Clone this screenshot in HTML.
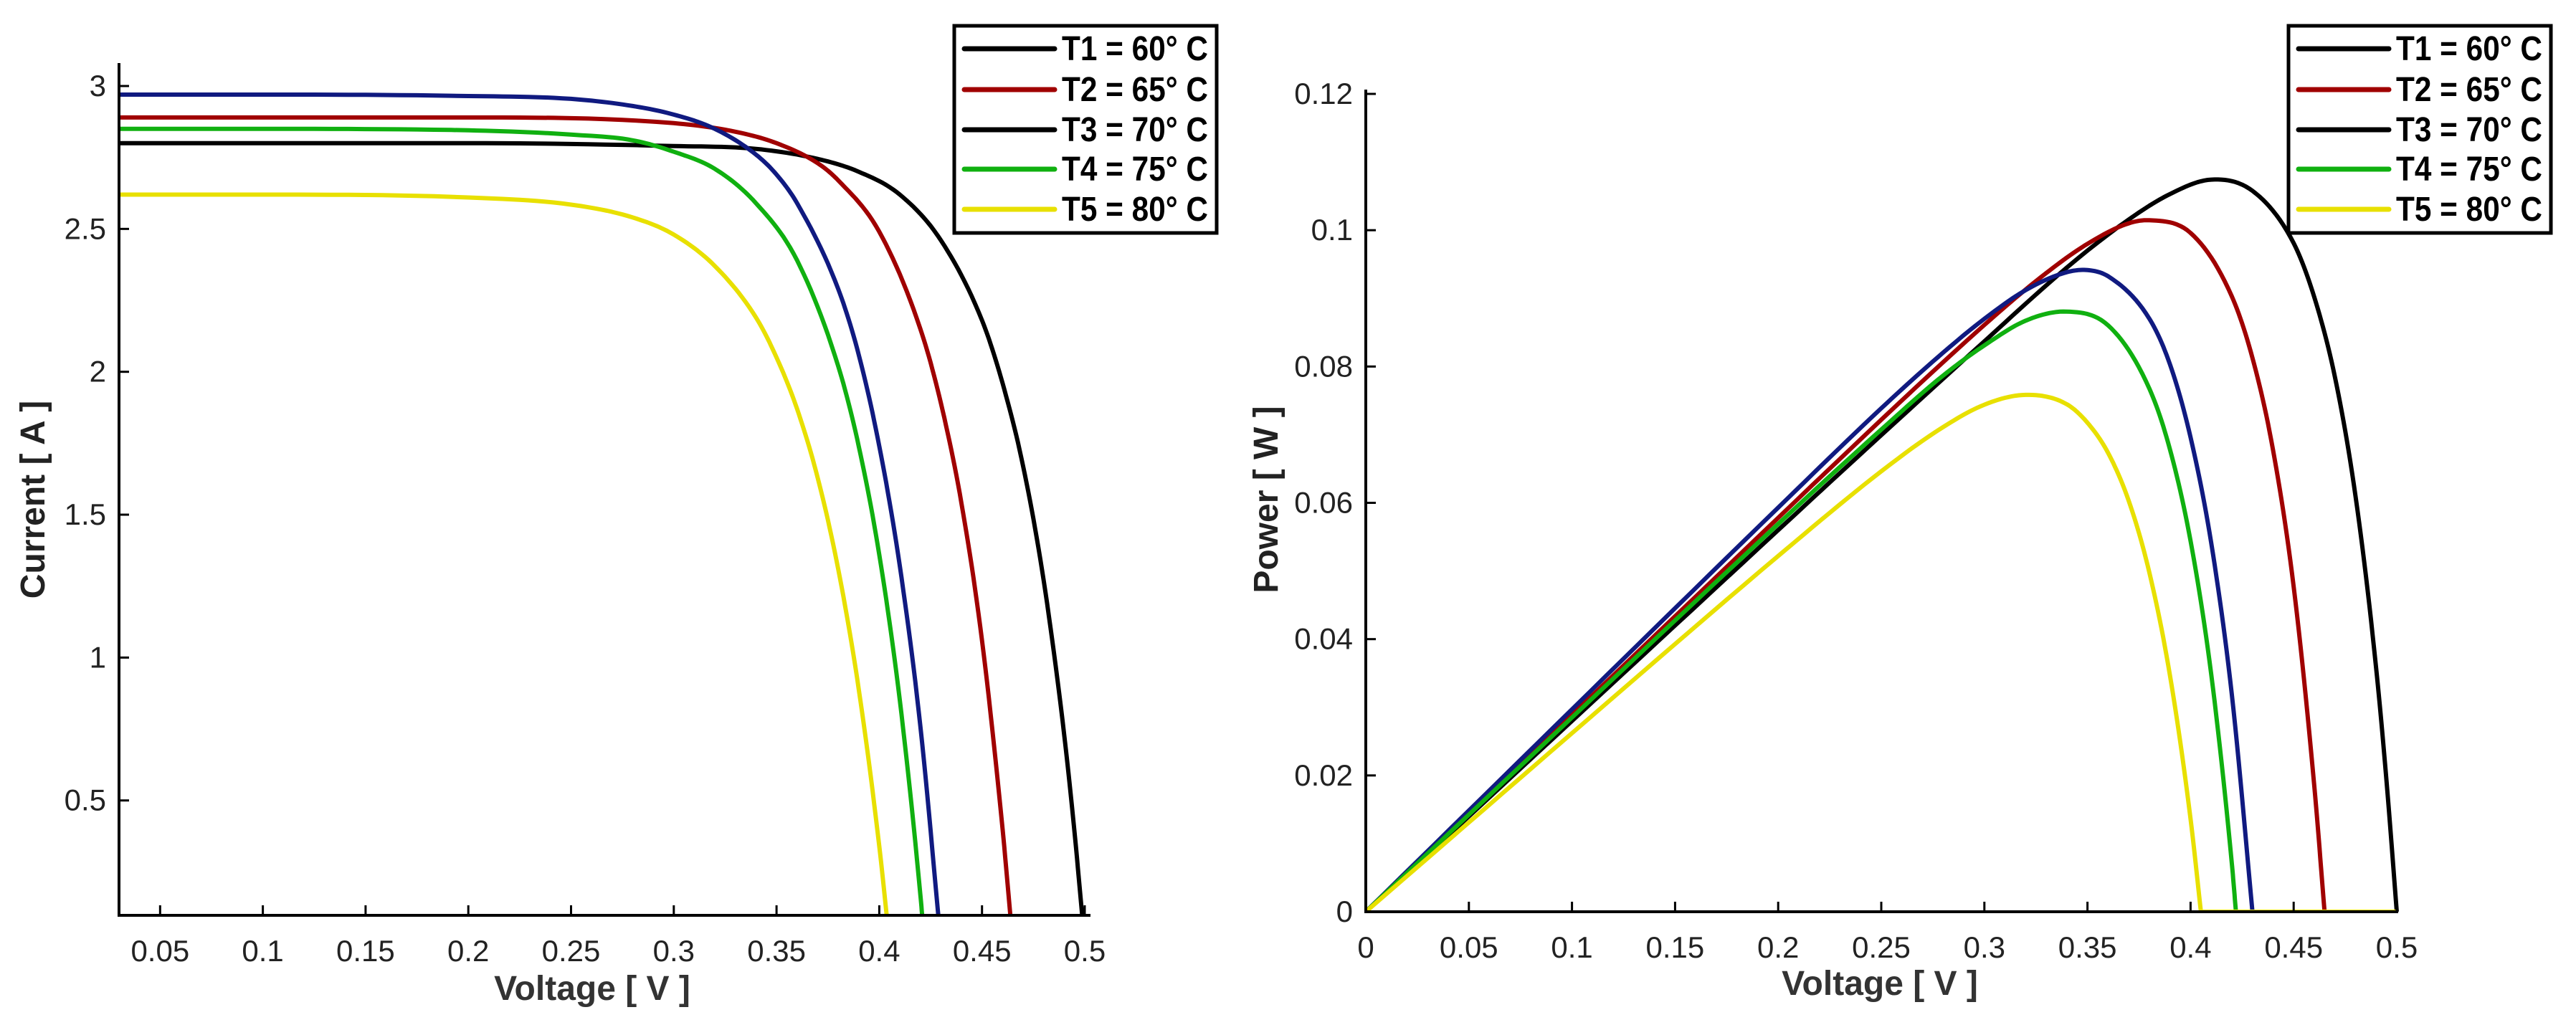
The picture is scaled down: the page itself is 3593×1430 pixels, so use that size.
<!DOCTYPE html>
<html><head><meta charset="utf-8"><style>
html,body{margin:0;padding:0;background:#fff;}
svg{display:block;}
text{font-family:"Liberation Sans Narrow","Liberation Sans",sans-serif;}
</style></head><body>
<svg id="root" width="3593" height="1430" viewBox="0 0 3593 1430"></svg>
<script>
// ---- data ----
const seriesNames = ["T1 = 60° C","T2 = 65° C","T3 = 70° C","T4 = 75° C","T5 = 80° C"];
const seriesColors = ["#000000","#a00000","#101a80","#10b010","#e8e000"];
const powerScale = 0.1;
const v1 = [0,0.1,0.2,0.3,0.34,0.37,0.39,0.41,0.43,0.45,0.46,0.47,0.48,0.49,0.495,0.50];
const i1 = [2.80,2.80,2.80,2.79,2.78,2.745,2.70,2.62,2.46,2.18,1.96,1.67,1.27,0.73,0.39,0];
const v2 = [0,0.1,0.2,0.3,0.33,0.35,0.37,0.38,0.40,0.42,0.43,0.44,0.45,0.46,0.465];
const i2 = [2.89,2.89,2.89,2.87,2.84,2.80,2.73,2.67,2.49,2.15,1.89,1.54,1.06,0.40,0];
const v3 = [0,0.1,0.2,0.25,0.28,0.30,0.32,0.34,0.35,0.36,0.38,0.39,0.40,0.41,0.42,0.43];
const i3 = [2.97,2.97,2.965,2.955,2.93,2.90,2.85,2.76,2.69,2.59,2.29,2.06,1.74,1.32,0.76,0];
const v4 = [0,0.1,0.2,0.25,0.28,0.30,0.32,0.34,0.36,0.38,0.39,0.40,0.41,0.42,0.422];
const i4 = [2.85,2.85,2.845,2.83,2.81,2.77,2.71,2.59,2.39,2.02,1.74,1.36,0.85,0.17,0];
const v5 = [0,0.1,0.2,0.25,0.28,0.30,0.32,0.34,0.35,0.36,0.37,0.38,0.39,0.40,0.405];
const i5 = [2.62,2.62,2.61,2.585,2.54,2.48,2.37,2.19,2.05,1.87,1.63,1.31,0.89,0.34,0];
const leftXTicks = [0.05,0.1,0.15,0.2,0.25,0.3,0.35,0.4,0.45,0.5];
const leftYTicks = [0.5,1,1.5,2,2.5,3];
const rightXTicks = [0,0.05,0.1,0.15,0.2,0.25,0.3,0.35,0.4,0.45,0.5];
const rightYTicks = [0,0.02,0.04,0.06,0.08,0.1,0.12];

const NS="http://www.w3.org/2000/svg";
const root=document.getElementById('root');
function mk(tag,attrs,parent){const e=document.createElementNS(NS,tag);for(const k in attrs)e.setAttribute(k,attrs[k]);(parent||root).appendChild(e);return e;}
function monotone(xs,ys,n){
  const m=xs.length,d=[],t=new Array(m);
  for(let k=0;k<m-1;k++)d.push((ys[k+1]-ys[k])/(xs[k+1]-xs[k]));
  t[0]=d[0];t[m-1]=d[m-2];
  for(let k=1;k<m-1;k++){t[k]=(d[k-1]*d[k]<=0)?0:(d[k-1]+d[k])/2;}
  for(let k=0;k<m-1;k++){if(d[k]===0){t[k]=0;t[k+1]=0;continue;}
    const a=t[k]/d[k],b=t[k+1]/d[k],s=a*a+b*b;if(s>9){const r=3/Math.sqrt(s);t[k]=r*a*d[k];t[k+1]=r*b*d[k];}}
  const out=[];
  for(let k=0;k<m-1;k++){const h=xs[k+1]-xs[k];
    for(let j=0;j<n;j++){const u=j/n,u2=u*u,u3=u2*u;
      const y=(2*u3-3*u2+1)*ys[k]+(u3-2*u2+u)*h*t[k]+(-2*u3+3*u2)*ys[k+1]+(u3-u2)*h*t[k+1];
      out.push([xs[k]+u*h,y]);}}
  out.push([xs[m-1],ys[m-1]]);
  return out;}
const allV=[v1,v2,v3,v4,v5], allI=[i1,i2,i3,i4,i5];

function drawChart(cfg){
  const g=mk('g',{});
  
  
  const X=v=>cfg.x0+(v-cfg.vx0)/(cfg.vx1-cfg.vx0)*(cfg.x1-cfg.x0);
  const Y=v=>cfg.y0+(v-cfg.vy0)/(cfg.vy1-cfg.vy0)*(cfg.y1-cfg.y0);
  const clip=mk('clipPath',{id:cfg.name+'-clip'},g);
  mk('rect',{x:cfg.x0,y:cfg.yTop,width:cfg.xRight-cfg.x0+4,height:cfg.y0-cfg.yTop},clip);
  const lines=mk('g',{'clip-path':'url(#'+cfg.name+'-clip)'},g);
  
  
  for(let s=0;s<5;s++){
    const dense=monotone(allV[s],allI[s],12);
    const pts=dense.map(p=>cfg.pt(p[0],p[1])).map(p=>[X(p[0]),Y(p[1])]);
    let d="M"+pts.map(p=>p[0].toFixed(1)+","+p[1].toFixed(1)).join(" L");
    if(cfg.extendZero) d+=" L"+X(cfg.vx1)+","+Y(0);
    const p=mk('path',{d:d,fill:'none',stroke:seriesColors[s],'stroke-width':6,'stroke-linejoin':'round'},lines);
    
    
  }
  const ax=mk('path',{d:`M${cfg.x0},${cfg.yTop} L${cfg.x0},${cfg.y0} L${cfg.xRight},${cfg.y0}`,fill:'none',stroke:'#000','stroke-width':4},g);
  
  
  cfg.xt.forEach(t=>{const x=X(t);
    mk('line',{x1:x,y1:cfg.y0,x2:x,y2:cfg.y0-14,stroke:'#000','stroke-width':3},g);
    const tx=mk('text',{x:x,y:cfg.y0+64,'font-size':42,'text-anchor':'middle',fill:'#222'},g);
    tx.textContent=String(t);
    
    });
  cfg.yt.forEach(t=>{const y=Y(t);
    mk('line',{x1:cfg.x0,y1:y,x2:cfg.x0+14,y2:y,stroke:'#000','stroke-width':3},g);
    const tx=mk('text',{x:cfg.x0-18,y:y+14,'font-size':42,'text-anchor':'end',fill:'#222'},g);
    tx.textContent=String(t);
    
    });
  const xl=mk('text',{x:cfg.xlx,y:cfg.xly,'font-size':48,'font-weight':'bold','text-anchor':'middle',fill:'#333'},g);
  xl.textContent='Voltage [ V ]';
  
  
  const yl=mk('text',{x:0,y:0,'font-size':48,'font-weight':'bold','text-anchor':'middle',fill:'#222',transform:`translate(${cfg.ylx},${cfg.yly}) rotate(-90)`},g);
  yl.textContent=cfg.ytitle;
  
  
  const lg=mk('g',{},g);
  
  
  mk('rect',{x:cfg.lx,y:36,width:366,height:289,fill:'#fff',stroke:'#000','stroke-width':5},lg);
  const rows=[68,125,181,236,292];
  for(let s=0;s<5;s++){
    const e=mk('g',{},lg);
    
    
    mk('line',{x1:cfg.lx+14,y1:rows[s],x2:cfg.lx+140,y2:rows[s],stroke:s==2?'#000':seriesColors[s],'stroke-width':7,'stroke-linecap':'round'},e);
    const t=mk('text',{x:cfg.lx+150,y:rows[s]+16,'font-size':48,'font-weight':'bold',textLength:204,lengthAdjust:'spacingAndGlyphs',fill:'#000'},e);
    t.textContent=seriesNames[s];
  }
}
drawChart({name:'iv-chart',x0:166,x1:1513,vx0:0.03,vx1:0.5,y0:1277,y1:120,vy0:0.098,vy1:3,
  yTop:88,xRight:1521,xt:leftXTicks,yt:leftYTicks,ytitle:'Current [ A ]',xlx:826,xly:1395,ylx:62,yly:697,lx:1331,
  pt:(v,i)=>[v,i],extendZero:false});
drawChart({name:'pv-chart',x0:1905,x1:3343,vx0:0,vx1:0.5,y0:1272,y1:131,vy0:0,vy1:0.12,
  yTop:125,xRight:3345,xt:rightXTicks,yt:rightYTicks,ytitle:'Power [ W ]',xlx:2622,xly:1388,ylx:1782,yly:697,lx:3192,
  pt:(v,i)=>[v,v*i*powerScale],extendZero:true});
</script>
</body></html>
